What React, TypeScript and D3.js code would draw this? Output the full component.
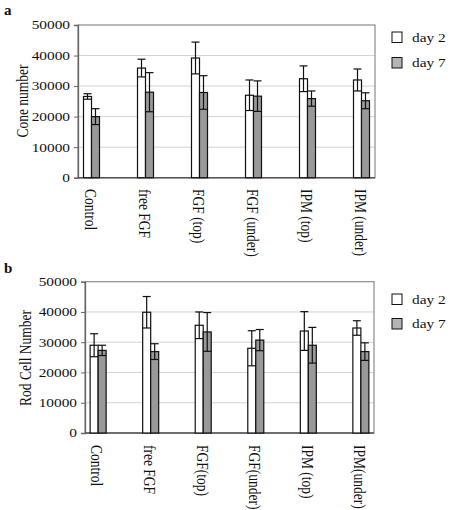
import { useEffect, useRef } from "react";
import * as d3 from "d3";

// cone counts (panel a)
const coneCategories = ["Control", "free FGF", "FGF (top)", "FGF (under)", "IPM (top)", "IPM (under)"];
const coneDay2 = [26600, 35900, 39200, 27000, 32400, 32000];
const coneDay2Err = [900, 2900, 5200, 5000, 4200, 3600];
const coneDay7 = [20000, 28000, 27900, 26700, 25900, 25200];
const coneDay7Err = [2600, 6400, 5500, 5000, 2500, 2600];

// rod counts (panel b)
const rodCategories = ["Control", "free FGF", "FGF(top)", "FGF(under)", "IPM (top)", "IPM(under)"];
const rodDay2 = [29000, 39900, 35600, 28000, 33700, 34700];
const rodDay2Err = [3800, 5200, 4400, 5800, 6400, 2400];
const rodDay7 = [27300, 26900, 33400, 30700, 29000, 26900];
const rodDay7Err = [1700, 2600, 6400, 3500, 5900, 2900];

const yTicks = [0, 10000, 20000, 30000, 40000, 50000];
const seriesNames = ["day 2", "day 7"];

const FONT = "'Liberation Serif', 'Times New Roman', serif";
const BAR_FILL = ["#ffffff", "#999999"];
const LEGEND_FILL = ["#ffffff", "#b4b4b4"];
const STRETCH = 1.28; // glyphs are drawn a bit wide

type Panel = {
  tag: string;
  tagY: number;
  title: string;
  titleX: number;
  titleY: number;
  categories: string[];
  values: number[][];
  errors: number[][];
  left: number;
  right: number;
  top: number;
  bottom: number;
  labelTop: number;
  legendY: number[];
};

function drawPanel(svg: d3.Selection<SVGSVGElement, unknown, null, undefined>, p: Panel) {
  const g = svg.append("g");

  const x = d3.scalePoint<string>().domain(p.categories).range([p.left, p.right]).padding(0.25);
  const y = d3.scaleLinear().domain([0, 50000]).range([p.bottom, p.top]);
  const barW = 8;

  // gridlines
  g.append("g")
    .selectAll("line")
    .data(yTicks.slice(1, -1))
    .join("line")
    .attr("x1", p.left)
    .attr("x2", p.right)
    .attr("y1", (d) => y(d))
    .attr("y2", (d) => y(d))
    .attr("stroke", "#d4d4d4")
    .attr("stroke-width", 1);

  // plot frame
  g.append("rect")
    .attr("x", p.left)
    .attr("y", p.top)
    .attr("width", p.right - p.left)
    .attr("height", p.bottom - p.top)
    .attr("fill", "none")
    .attr("stroke", "#8c8c8c")
    .attr("stroke-width", 1.2);

  // y axis
  const axis = g
    .append("g")
    .attr("transform", `translate(${p.left},0)`)
    .call(d3.axisLeft(y).tickValues(yTicks).tickSize(4).tickPadding(4).tickFormat(d3.format("d")));
  axis.select(".domain").attr("stroke", "#666").attr("stroke-width", 1.3);
  axis.selectAll(".tick line").attr("stroke", "#666");
  axis
    .selectAll<SVGTextElement, number>(".tick text")
    .attr("font-family", FONT)
    .attr("font-size", 12)
    .attr("fill", "#111")
    .attr("transform", function () {
      const tx = +(this.getAttribute("x") || 0);
      return `translate(${tx},0) scale(${STRETCH},1) translate(${-tx},0)`;
    });

  // baseline
  g.append("line")
    .attr("x1", p.left)
    .attr("x2", p.right)
    .attr("y1", p.bottom)
    .attr("y2", p.bottom)
    .attr("stroke", "#555")
    .attr("stroke-width", 1.5);

  // bars and error bars
  [0, 1].forEach((s) => {
    const rows = p.categories.map((c, i) => ({ c, v: p.values[s][i], e: p.errors[s][i] }));
    const bx = (d: { c: string }) => (x(d.c) as number) + (s === 0 ? -barW : 0);
    const series = g.append("g");

    series
      .selectAll("rect")
      .data(rows)
      .join("rect")
      .attr("x", bx)
      .attr("y", (d) => y(d.v))
      .attr("width", barW)
      .attr("height", (d) => y(0) - y(d.v))
      .attr("fill", BAR_FILL[s])
      .attr("stroke", "#111")
      .attr("stroke-width", 1.2);

    const err = series.append("g").attr("stroke", "#111").attr("stroke-width", 1.2);
    err
      .selectAll("line.v")
      .data(rows)
      .join("line")
      .attr("class", "v")
      .attr("x1", (d) => bx(d) + barW / 2)
      .attr("x2", (d) => bx(d) + barW / 2)
      .attr("y1", (d) => y(d.v - d.e))
      .attr("y2", (d) => y(d.v + d.e));
    err
      .selectAll("line.hi")
      .data(rows)
      .join("line")
      .attr("class", "hi")
      .attr("x1", (d) => bx(d))
      .attr("x2", (d) => bx(d) + barW)
      .attr("y1", (d) => y(d.v + d.e))
      .attr("y2", (d) => y(d.v + d.e));
    err
      .selectAll("line.lo")
      .data(rows)
      .join("line")
      .attr("class", "lo")
      .attr("x1", (d) => bx(d))
      .attr("x2", (d) => bx(d) + barW)
      .attr("y1", (d) => y(d.v - d.e))
      .attr("y2", (d) => y(d.v - d.e));
  });

  // category labels, reading downward
  g.append("g")
    .selectAll("text")
    .data(p.categories)
    .join("text")
    .attr("transform", (d) => `translate(${(x(d) as number) - 1},${p.labelTop}) rotate(90) scale(1,${STRETCH})`)
    .attr("dy", "0.33em")
    .attr("font-family", FONT)
    .attr("font-size", 13.5)
    .attr("fill", "#111")
    .text((d) => d);

  // axis title
  g.append("text")
    .attr("transform", `translate(${p.titleX},${p.titleY}) rotate(-90) scale(1,${STRETCH})`)
    .attr("text-anchor", "middle")
    .attr("dy", "0.33em")
    .attr("font-family", FONT)
    .attr("font-size", 13.5)
    .attr("fill", "#111")
    .text(p.title);

  // panel tag
  g.append("text")
    .attr("x", 4)
    .attr("y", p.tagY)
    .attr("font-family", FONT)
    .attr("font-weight", "bold")
    .attr("font-size", 15)
    .attr("fill", "#111")
    .text(p.tag);

  // legend
  const legend = g
    .append("g")
    .selectAll("g")
    .data(seriesNames)
    .join("g")
    .attr("transform", (_, i) => `translate(392,${p.legendY[i]})`);
  legend
    .append("rect")
    .attr("width", 10)
    .attr("height", 10.5)
    .attr("fill", (_, i) => LEGEND_FILL[i])
    .attr("stroke", "#111")
    .attr("stroke-width", 1);
  legend
    .append("text")
    .attr("transform", `translate(20,9.5) scale(${STRETCH},1)`)
    .attr("font-family", FONT)
    .attr("font-size", 12)
    .attr("fill", "#111")
    .text((d) => d);
}

export default function App() {
  const ref = useRef<SVGSVGElement>(null);

  useEffect(() => {
    const svg = d3.select(ref.current as SVGSVGElement);
    svg.selectAll("*").remove();

    drawPanel(svg, {
      tag: "a",
      tagY: 15,
      title: "Cone number",
      titleX: 22,
      titleY: 101,
      categories: coneCategories,
      values: [coneDay2, coneDay7],
      errors: [coneDay2Err, coneDay7Err],
      left: 78,
      right: 375,
      top: 25,
      bottom: 177.7,
      labelTop: 189,
      legendY: [32, 57.5],
    });

    drawPanel(svg, {
      tag: "b",
      tagY: 273,
      title: "Rod Cell Number",
      titleX: 25,
      titleY: 358,
      categories: rodCategories,
      values: [rodDay2, rodDay7],
      errors: [rodDay2Err, rodDay7Err],
      left: 85,
      right: 374,
      top: 281.7,
      bottom: 433,
      labelTop: 445,
      legendY: [294, 318.5],
    });
  }, []);

  return (
    <svg
      ref={ref}
      width={451}
      height={510}
      style={{ position: "absolute", left: 0, top: 0, background: "#fff" }}
    />
  );
}
